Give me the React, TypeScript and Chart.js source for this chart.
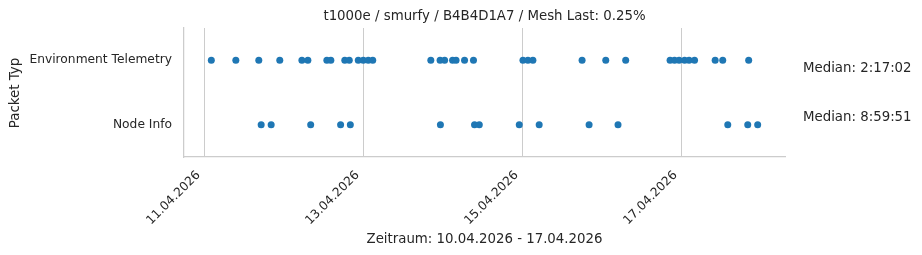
import React, { useEffect, useRef } from "react";
import { Chart, registerables } from "chart.js";

Chart.register(...registerables);

const TITLE = "t1000e / smurfy / B4B4D1A7 / Mesh Last: 0.25%";
const X_TITLE = "Zeitraum: 10.04.2026 - 17.04.2026";
const Y_TITLE = "Packet Typ";
const CATEGORIES = ["Environment Telemetry", "Node Info"];
const MEDIAN_LABELS = ["Median: 2:17:02", "Median: 8:59:51"];
const TICK_DATES = ["11.04.2026", "13.04.2026", "15.04.2026", "17.04.2026"];

const ENV_TIMES = [
  "11.04.2026 02:05", "11.04.2026 09:29", "11.04.2026 16:25", "11.04.2026 22:45",
  "12.04.2026 05:26", "12.04.2026 07:14", "12.04.2026 12:58", "12.04.2026 14:10",
  "12.04.2026 18:23", "12.04.2026 19:44", "12.04.2026 22:27", "12.04.2026 23:58",
  "13.04.2026 01:28", "13.04.2026 02:49", "13.04.2026 20:21", "13.04.2026 23:09",
  "14.04.2026 00:31", "14.04.2026 02:55", "14.04.2026 03:58", "14.04.2026 06:32",
  "14.04.2026 09:14", "15.04.2026 00:10", "15.04.2026 01:40", "15.04.2026 03:10",
  "15.04.2026 18:01", "16.04.2026 01:10", "16.04.2026 07:11", "16.04.2026 20:35",
  "16.04.2026 21:56", "16.04.2026 23:18", "17.04.2026 00:58", "17.04.2026 02:19",
  "17.04.2026 03:58", "17.04.2026 10:12", "17.04.2026 12:29", "17.04.2026 20:19",
];

const NODE_TIMES = [
  "11.04.2026 17:08", "11.04.2026 20:09", "12.04.2026 08:05", "12.04.2026 17:07",
  "12.04.2026 20:03", "13.04.2026 23:15", "14.04.2026 09:33", "14.04.2026 10:59",
  "14.04.2026 23:03", "15.04.2026 05:04", "15.04.2026 20:08", "16.04.2026 04:52",
  "17.04.2026 14:00", "17.04.2026 20:02", "17.04.2026 23:02",
];

const SERIES = [ENV_TIMES, NODE_TIMES];

const FONT = "'DejaVu Sans', sans-serif";
const TEXT = "#262626";
const GRID = "#cccccc";
const DOT = "#1f77b4";
const LABEL_SIZE = 13.33;
const TICK_SIZE = 12.25;

function parseTime(s: string): number {
  const [d, t] = s.split(" ");
  const [dd, mm, yyyy] = d.split(".").map(Number);
  const [hh, mi] = (t || "00:00").split(":").map(Number);
  return Date.UTC(yyyy, mm - 1, dd, hh, mi);
}

function fmtDate(ms: number): string {
  const dt = new Date(ms);
  const p = (n: number) => String(n).padStart(2, "0");
  return `${p(dt.getUTCDate())}.${p(dt.getUTCMonth() + 1)}.${dt.getUTCFullYear()}`;
}

export default function App() {
  const ref = useRef<HTMLCanvasElement | null>(null);

  useEffect(() => {
    const canvas = ref.current;
    if (!canvas) return;

    const all = SERIES.flat().map(parseTime);
    const tMin = Math.min(...all);
    const tMax = Math.max(...all);
    const margin = (tMax - tMin) * 0.05;

    const datasets = SERIES.map((times, i) => ({
      label: CATEGORIES[i],
      data: times.map((t) => ({ x: parseTime(t), y: i })),
      backgroundColor: DOT,
      borderWidth: 0,
      pointRadius: 3.5,
      pointHoverRadius: 3.5,
    }));

    const textPlugin = {
      id: "texts",
      afterDraw(chart: any) {
        const { ctx, chartArea } = chart;
        const ys = chart.scales.y;
        const cx = (chartArea.left + chartArea.right) / 2;
        ctx.save();
        ctx.fillStyle = TEXT;
        ctx.font = `${LABEL_SIZE}px ${FONT}`;
        ctx.textAlign = "center";
        ctx.textBaseline = "alphabetic";
        ctx.fillText(TITLE, cx, 20);
        ctx.fillText(X_TITLE, cx, 243);
        ctx.textAlign = "left";
        ctx.fillText(MEDIAN_LABELS[0], chartArea.right + 18, ys.getPixelForValue(0) + 11.5);
        ctx.fillText(MEDIAN_LABELS[1], chartArea.right + 18, ys.getPixelForValue(1) - 3.5);
        ctx.translate(16, 93);
        ctx.rotate(-Math.PI / 2);
        ctx.textAlign = "center";
        ctx.textBaseline = "middle";
        ctx.fillText(Y_TITLE, 0, 0);
        ctx.restore();
      },
    };

    const chart = new Chart(canvas, {
      type: "scatter",
      data: { datasets },
      plugins: [textPlugin],
      options: {
        animation: false,
        responsive: false,
        devicePixelRatio: 1,
        layout: { padding: { top: 28, right: 137, left: 0, bottom: 0 } },
        plugins: {
          legend: { display: false },
          tooltip: { enabled: false },
          title: { display: false },
        },
        scales: {
          x: {
            type: "linear",
            min: tMin - margin,
            max: tMax + margin,
            afterBuildTicks: (scale: any) => {
              scale.ticks = TICK_DATES.map((d) => ({ value: parseTime(d) }));
            },
            afterFit: (scale: any) => {
              scale.height = 98;
            },
            grid: { display: true, color: GRID, lineWidth: 1, drawTicks: false },
            border: { display: true, color: GRID, width: 1.25 },
            ticks: {
              autoSkip: false,
              minRotation: 45,
              maxRotation: 45,
              padding: 11,
              labelOffset: -6,
              color: TEXT,
              font: { family: FONT, size: TICK_SIZE },
              callback: (v: any) => fmtDate(Number(v)),
            },
          },
          y: {
            type: "linear",
            min: -0.5,
            max: 1.5,
            reverse: true,
            afterBuildTicks: (scale: any) => {
              scale.ticks = CATEGORIES.map((_, i) => ({ value: i }));
            },
            afterFit: (scale: any) => {
              scale.width = 184;
            },
            grid: { display: false, drawTicks: false },
            border: { display: true, color: GRID, width: 1.25 },
            ticks: {
              padding: 12,
              color: TEXT,
              font: { family: FONT, size: TICK_SIZE },
              callback: (v: any) => CATEGORIES[Number(v)] ?? "",
            },
          },
        },
      },
    });

    return () => chart.destroy();
  }, []);

  return (
    <div style={{ position: "absolute", left: 0, top: 0, width: 922, height: 255, background: "#fff" }}>
      <canvas ref={ref} width={922} height={255} style={{ display: "block", width: 922, height: 255 }} />
    </div>
  );
}
